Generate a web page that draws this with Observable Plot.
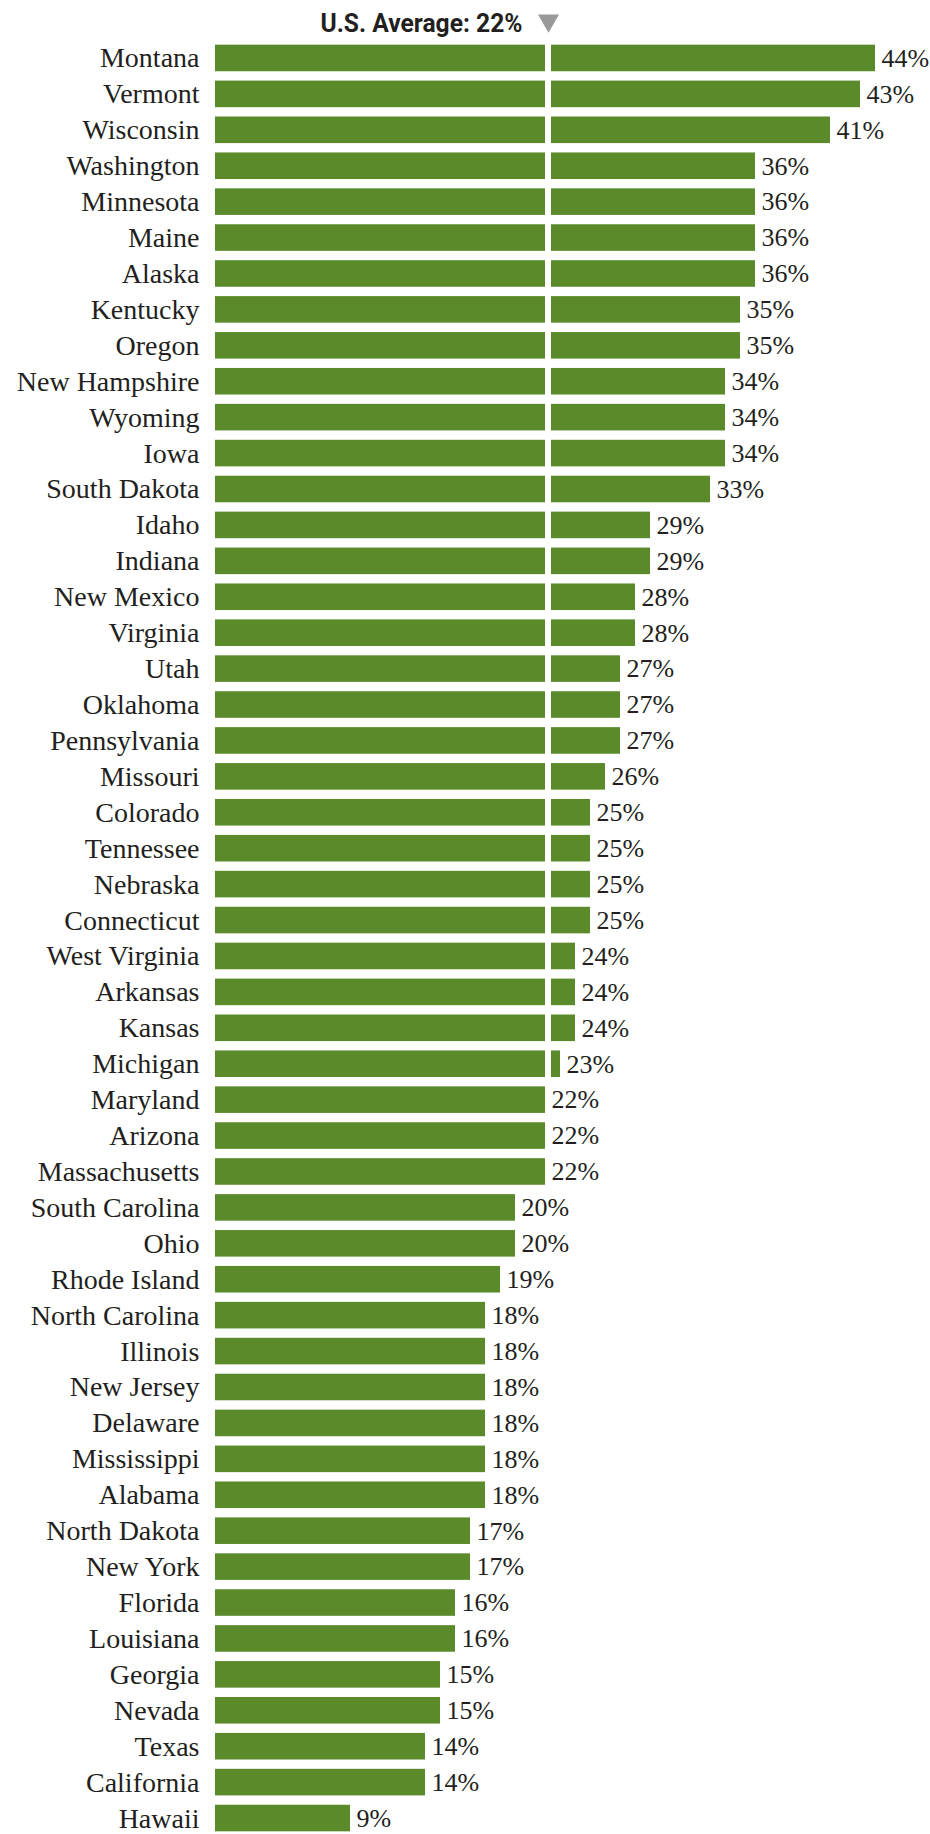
<!DOCTYPE html>
<html>
<head>
<meta charset="utf-8">
<script src="https://cdn.jsdelivr.net/npm/d3@7"></script>
<script src="https://cdn.jsdelivr.net/npm/@observablehq/plot@0.6"></script>
<style>
  html, body { margin: 0; padding: 0; background: #fff; }
</style>
</head>
<body>
<div id="chart"></div>
<script>
const states = ["Montana","Vermont","Wisconsin","Washington","Minnesota","Maine","Alaska","Kentucky","Oregon","New Hampshire","Wyoming","Iowa","South Dakota","Idaho","Indiana","New Mexico","Virginia","Utah","Oklahoma","Pennsylvania","Missouri","Colorado","Tennessee","Nebraska","Connecticut","West Virginia","Arkansas","Kansas","Michigan","Maryland","Arizona","Massachusetts","South Carolina","Ohio","Rhode Island","North Carolina","Illinois","New Jersey","Delaware","Mississippi","Alabama","North Dakota","New York","Florida","Louisiana","Georgia","Nevada","Texas","California","Hawaii"];
const values = [44,43,41,36,36,36,36,35,35,34,34,34,33,29,29,28,28,27,27,27,26,25,25,25,25,24,24,24,23,22,22,22,20,20,19,18,18,18,18,18,18,17,17,16,16,15,15,14,14,9];
const usAverage = 22;
const titleText = "U.S. Average: 22%";

const data = states.map((s, i) => ({state: s, value: values[i]}));
const below = data.map(d => ({state: d.state, x1: 0, x2: Math.min(d.value, usAverage)}));
const above = data.filter(d => d.value > usAverage).map(d => ({state: d.state, x1: usAverage, x2: d.value}));

const green = "#5b8a2a";
const ink = "#231f20";
const serif = "'Liberation Serif', 'Times New Roman', serif";

const chart = Plot.plot({
  width: 930,
  height: 1834,
  marginTop: 0,
  marginBottom: 0,
  marginLeft: 215,
  marginRight: 0,
  style: {fontFamily: serif, background: "#fff"},
  x: {domain: [0, 44], range: [215, 875], axis: null},
  y: {domain: states, range: [40, 1836], paddingInner: 0.26, paddingOuter: 0.13, axis: null},
  marks: [
    Plot.barX(below, {x1: "x1", x2: "x2", y: "state", fill: green}),
    Plot.barX(above, {x1: "x1", x2: "x2", y: "state", fill: green, insetLeft: 6}),
    Plot.text(data, {x: 0, y: "state", text: "state", textAnchor: "end", dx: -16, fontSize: 28, fill: ink, fontFamily: serif}),
    Plot.text(data, {x: "value", y: "state", text: d => d.value + "%", textAnchor: "start", dx: 6, fontSize: 26, fill: ink, fontFamily: serif}),
    Plot.text([titleText], {x: usAverage, frameAnchor: "top", lineAnchor: "middle", text: d => d, textAnchor: "end", dx: -23, dy: 23, fontSize: 25, fontWeight: "bold", fill: ink, fontFamily: "'Liberation Sans Narrow', 'Arial Narrow', Roboto, 'Liberation Sans', sans-serif"}),
    Plot.dot([usAverage], {x: d => d, frameAnchor: "top", dy: 20, dx: 3, symbol: "triangle", rotate: 180, r: 7.8, fill: "#999999", stroke: null})
  ]
});

d3.select(chart).selectAll("text").filter(function() { return this.textContent === titleText; })
  .attr("textLength", 202).attr("lengthAdjust", "spacingAndGlyphs");

document.getElementById("chart").appendChild(chart);
</script>
</body>
</html>
